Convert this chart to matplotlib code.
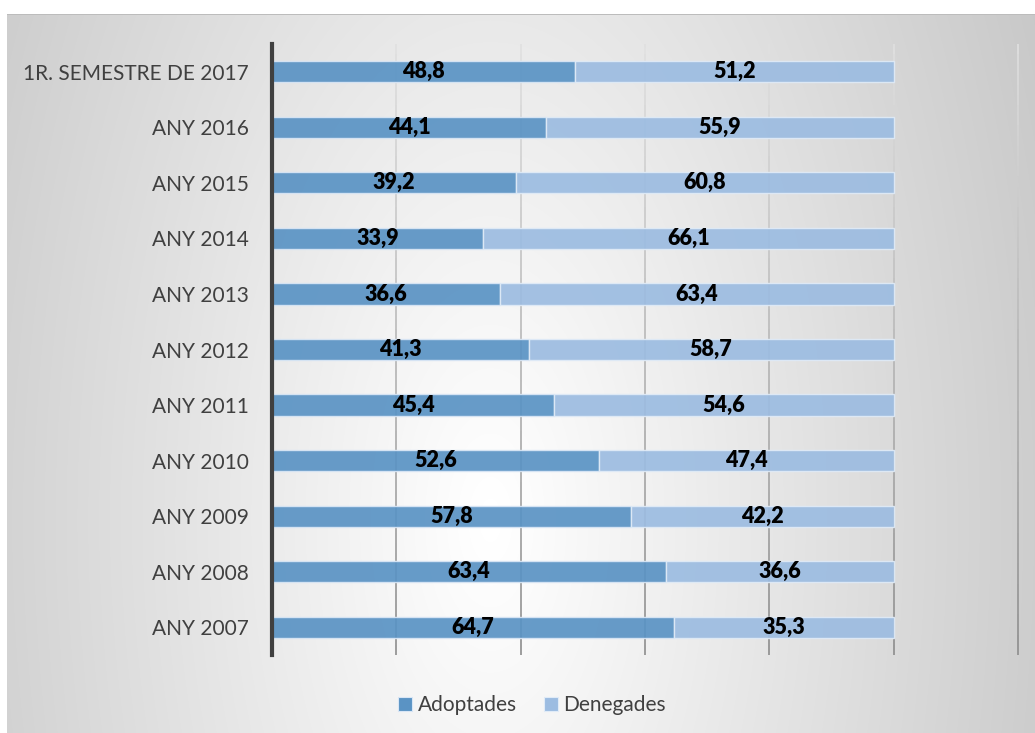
import numpy as np
import matplotlib
matplotlib.use("Agg")
import matplotlib.pyplot as plt
from matplotlib.collections import LineCollection
from matplotlib.patches import Patch

categories = ["1R. SEMESTRE DE 2017", "ANY 2016", "ANY 2015", "ANY 2014", "ANY 2013",
              "ANY 2012", "ANY 2011", "ANY 2010", "ANY 2009", "ANY 2008", "ANY 2007"]
adoptades = [48.8, 44.1, 39.2, 33.9, 36.6, 41.3, 45.4, 52.6, 57.8, 63.4, 64.7]
denegades = [51.2, 55.9, 60.8, 66.1, 63.4, 58.7, 54.6, 47.4, 42.2, 36.6, 35.3]
series_names = ["Adoptades", "Denegades"]
x_ticks = [0, 20, 40, 60, 80, 100, 120]

W, H = 1035, 733
fig = plt.figure(figsize=(W / 100, H / 100), dpi=100)
plt.rcParams['font.family'] = ['Lato', 'DejaVu Sans']

# background radial gradient
yy, xx = np.mgrid[0:H, 0:W]
cx, cy = 490, 520
d = np.sqrt((xx - cx) ** 2 + ((yy - cy) / 2.0) ** 2)
v = np.clip(256 - 0.092 * d, 0, 255) / 255.0
v[:14, :] = 1.0
v[:, :7] = 1.0
v[14, 7:] = 0.74
img = np.dstack([v, v, v])
fig.figimage(img, xo=0, yo=0, origin='upper', zorder=-10)

ax = fig.add_axes([272 / W, 1 - 655 / H, (1018 - 272) / W, (655 - 44) / H])
ax.set_zorder(1)
ax.patch.set_alpha(0)

y = np.arange(len(categories))
c_adop = "#5a93c4"
c_den = "#9cbce1"
b1 = ax.barh(y, adoptades, height=0.38, color=c_adop, alpha=0.92,
             edgecolor=(0.85, 0.9, 0.96, 0.9), linewidth=1.0, zorder=2)
b2 = ax.barh(y, denegades, left=adoptades, height=0.38, color=c_den, alpha=0.92,
             edgecolor=(0.88, 0.92, 0.97, 0.9), linewidth=1.0, zorder=2)

fmt = lambda vals: [f"{v:.1f}".replace(".", ",") for v in vals]
ax.bar_label(b1, labels=fmt(adoptades), label_type='center', fontsize=15.5,
             fontweight='heavy', color='black', zorder=4)
ax.bar_label(b2, labels=fmt(denegades), label_type='center', fontsize=15.5,
             fontweight='heavy', color='black', zorder=4)

ax.set_xlim(x_ticks[0], x_ticks[-1])
ax.set_ylim(len(categories) - 0.5, -0.5)
ax.set_yticks(y)
ax.set_yticklabels(categories, fontsize=15, color='#404040')
ax.set_xticks([])
ax.tick_params(axis='y', length=0, pad=16.5)

# gradient gridlines
n = 60
ts = np.linspace(0, 1, n + 1)
for xt in x_ticks[1:]:
    segs = [[(xt, ts[i]), (xt, ts[i + 1])] for i in range(n)]
    cols = []
    for i in range(n):
        t = (ts[i] + ts[i + 1]) / 2  # 0 bottom, 1 top
        g = 0.55 + 0.33 * t
        cols.append((g, g, g, 1))
    lc = LineCollection(segs, colors=cols, linewidths=1.2,
                        transform=ax.get_xaxis_transform(), zorder=1)
    lc.set_clip_on(False)
    ax.add_collection(lc)

for s in ['top', 'right', 'bottom']:
    ax.spines[s].set_visible(False)
ax.spines['left'].set_color('#404040')
ax.spines['left'].set_linewidth(3)
ax.spines['left'].set_zorder(5)

handles = [Patch(facecolor=c_adop, edgecolor=(0.85, 0.9, 0.96), linewidth=0.8),
           Patch(facecolor=c_den, edgecolor=(0.88, 0.92, 0.97), linewidth=0.8)]
fig.legend(handles, series_names, loc='center', bbox_to_anchor=(532 / W, 1 - 705 / H),
           ncol=2, frameon=False, fontsize=15, labelcolor='#404040',
           handlelength=0.67, handleheight=0.67, handletextpad=0.25, columnspacing=1.3)

fig.savefig("out.png", dpi=100)
